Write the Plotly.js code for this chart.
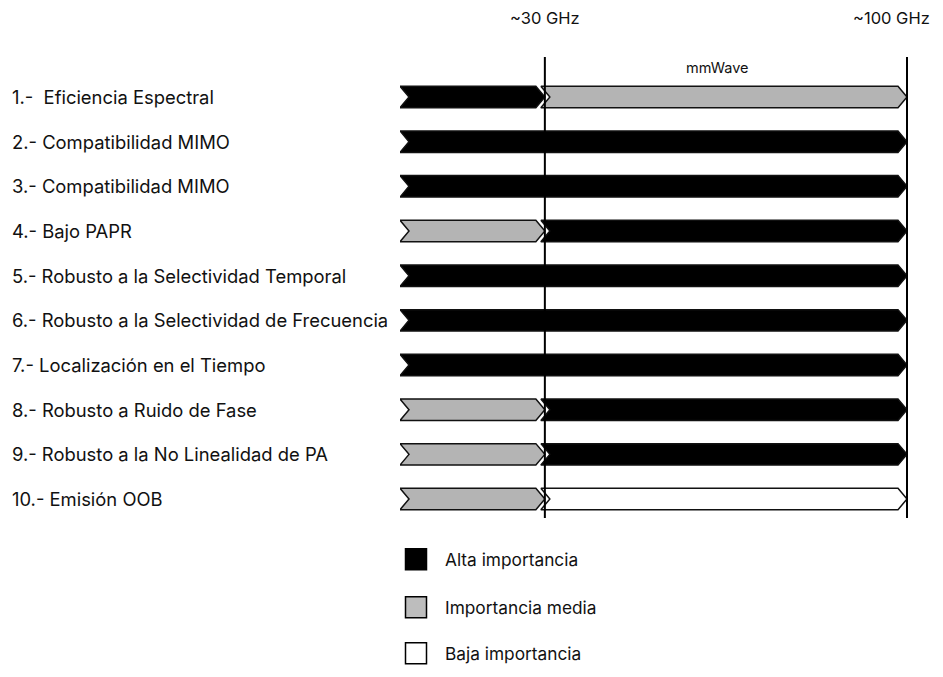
<!DOCTYPE html>
<html>
<head>
<meta charset="utf-8">
<script src="https://cdn.plot.ly/plotly-3.0.1.min.js"></script>
<style>html,body{margin:0;padding:0;background:#fff;}#chart{width:943px;height:677px;}</style>
</head>
<body>
<div id="chart"></div>
<script>
// ---- data ----
const features = [
  "1.-  Eficiencia Espectral",
  "2.- Compatibilidad MIMO",
  "3.- Compatibilidad MIMO",
  "4.- Bajo PAPR",
  "5.- Robusto a la Selectividad Temporal",
  "6.- Robusto a la Selectividad de Frecuencia",
  "7.- Localización en el Tiempo",
  "8.- Robusto a Ruido de Fase",
  "9.- Robusto a la No Linealidad de PA",
  "10.- Emisión OOB"
];
// importance below ~30 GHz and in the mmWave band (~30 to ~100 GHz)
const importanceLowBand = ["alta","alta","alta","media","alta","alta","alta","media","media","media"];
const importanceMmWave  = ["media","alta","alta","alta","alta","alta","alta","alta","alta","baja"];
const bandEdgesGHz = [2, 30, 100];           // schematic band edges (start, ~30 GHz, ~100 GHz)
const bandEdgeLabels = ["~30 GHz", "~100 GHz"];
const bandName = "mmWave";
const levels = ["alta", "media", "baja"];
const levelNames = ["Alta importancia", "Importancia media", "Baja importancia"];

// ---- styling ----
const FONT = "Inter, Roboto, sans-serif";
const W = 943, H = 677;
const xLeftPx = 400, xRightPx = 907;
const pxPerUnit = (xRightPx - xLeftPx) / (bandEdgesGHz[2] - bandEdgesGHz[0]);
const rowTop = 97, rowStep = 44.67;
const yMin = 1 - rowTop / rowStep, yMax = 1 + (H - rowTop) / rowStep;
const half = 0.24;
const tip = 9 / pxPerUnit;       // chevron depth
const overlap = 4 / pxPerUnit;   // second segment starts a bit earlier
const levelStyle = {
  alta:  {fillcolor: "#000000"},
  media: {fillcolor: "#bcbcbc", fillpattern: {shape: ".", bgcolor: "#c6c6c6", fgcolor: "#999999", size: 2, solidity: 0.45}},
  baja:  {fillcolor: "#ffffff"}
};

// build segments per row, merging equal levels into one chevron
const segs = {alta: {x: [], y: []}, media: {x: [], y: []}, baja: {x: [], y: []}};
function addChevron(level, a, b, r) {
  const s = segs[level];
  s.x.push(a, b - tip, b, b - tip, a, a + tip, a, null);
  s.y.push(r - half, r - half, r, r + half, r + half, r, r - half, null);
}
features.forEach((f, i) => {
  const r = i + 1, l1 = importanceLowBand[i], l2 = importanceMmWave[i];
  if (l1 === l2) {
    addChevron(l1, bandEdgesGHz[0], bandEdgesGHz[2], r);
  } else {
    addChevron(l1, bandEdgesGHz[0], bandEdgesGHz[1], r);
    addChevron(l2, bandEdgesGHz[1] - overlap, bandEdgesGHz[2], r);
  }
});

const traces = [];
levels.forEach(lv => {
  if (!segs[lv].x.length) return;
  const st = levelStyle[lv];
  const t = {
    x: segs[lv].x, y: segs[lv].y, type: "scatter", mode: "lines",
    fill: "toself", fillcolor: st.fillcolor,
    line: {color: "#111", width: 1.5}, hoverinfo: "skip", showlegend: false
  };
  if (st.fillpattern) t.fillpattern = st.fillpattern;
  traces.push(t);
});

// legend squares
const legRows = [11.35, 12.42, 13.45];
const legX = bandEdgesGHz[0] + 16 / pxPerUnit;
traces.push({
  x: levels.map(() => legX), y: legRows,
  type: "scatter", mode: "markers", hoverinfo: "skip", showlegend: false, cliponaxis: false,
  marker: {symbol: "square", size: 21, color: ["#000", "#bdbdbd", "#fff"], line: {color: "#000", width: 1.5}}
});

const annotations = [];
features.forEach((f, i) => annotations.push({
  text: f, xref: "paper", x: 10 / W, xanchor: "left", yref: "y", y: i + 1, yanchor: "middle",
  showarrow: false, font: {family: FONT, size: 18.4, color: "#111"}
}));
bandEdgeLabels.forEach((t, i) => annotations.push({
  text: t, xref: "x", x: bandEdgesGHz[i + 1], xanchor: "center", xshift: i === 1 ? -16 : 0,
  yref: "paper", y: 1 - 18 / H, yanchor: "middle",
  showarrow: false, font: {family: FONT, size: 16.5, color: "#111"}
}));
annotations.push({
  text: bandName, xref: "x", x: (bandEdgesGHz[1] + bandEdgesGHz[2]) / 2 - 1 - 4 / pxPerUnit, xanchor: "center",
  yref: "paper", y: 1 - 67 / H, yanchor: "middle",
  showarrow: false, font: {family: FONT, size: 14.5, color: "#111"}
});
levelNames.forEach((t, i) => annotations.push({
  text: t, xref: "x", x: bandEdgesGHz[0] + 43 / pxPerUnit, xanchor: "left", yref: "y", y: legRows[i], yanchor: "middle",
  showarrow: false, font: {family: FONT, size: 17.3, color: "#111"}
}));

const shapes = [1, 2].map(k => ({
  type: "line", xref: "x", x0: bandEdgesGHz[k], x1: bandEdgesGHz[k], yref: "paper", y0: 1 - 57 / H, y1: 1 - 518 / H,
  line: {color: "#000", width: 2}, layer: "above"
}));

const hidden = {showgrid: false, zeroline: false, showticklabels: false, showline: false, ticks: "", fixedrange: true};
const layout = {
  width: W, height: H, margin: {l: 0, r: 0, t: 0, b: 0},
  paper_bgcolor: "#fff", plot_bgcolor: "#fff",
  xaxis: Object.assign({domain: [xLeftPx / W, (xRightPx + 2) / W], range: [bandEdgesGHz[0], bandEdgesGHz[2] + 2 / pxPerUnit]}, hidden),
  yaxis: Object.assign({range: [yMax, yMin]}, hidden),
  annotations, shapes, showlegend: false
};
Plotly.newPlot("chart", traces, layout, {displayModeBar: false, staticPlot: true});
</script>
</body>
</html>
